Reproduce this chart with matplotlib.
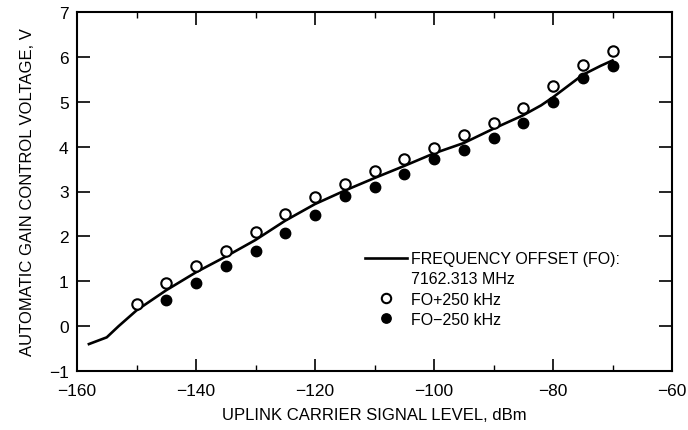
import matplotlib
matplotlib.use("Agg")
import matplotlib.pyplot as plt
from matplotlib.lines import Line2D
from matplotlib.ticker import MultipleLocator

plt.rcParams['font.family'] = ['Liberation Sans', 'DejaVu Sans']

# Data
level_pts = [-150, -145, -140, -135, -130, -125, -120, -115, -110,
             -105, -100, -95, -90, -85, -80, -75, -70]
fo_plus = [0.50, 0.95, 1.33, 1.67, 2.10, 2.50, 2.87, 3.17, 3.45,
           3.73, 3.98, 4.25, 4.53, 4.87, 5.35, 5.82, 6.13]
fo_minus = [None, 0.58, 0.95, 1.33, 1.68, 2.07, 2.48, 2.90, 3.10,
            3.40, 3.72, 3.92, 4.20, 4.52, 5.00, 5.52, 5.80]

curve_x = [-158, -155, -153, -150, -145, -140, -135, -130, -125, -120,
           -115, -110, -105, -100, -95, -90, -85, -82, -80, -77, -75, -72, -70]
curve_y = [-0.40, -0.25, 0.00, 0.35, 0.80, 1.20, 1.55, 1.92, 2.35, 2.72,
           3.02, 3.30, 3.57, 3.85, 4.08, 4.40, 4.70, 4.92, 5.10, 5.40, 5.60, 5.80, 5.92]

xticks = [-160, -140, -120, -100, -80, -60]
yticks = [-1, 0, 1, 2, 3, 4, 5, 6, 7]

fig = plt.figure(figsize=(6.88, 4.31), dpi=100)
ax = fig.add_axes([77/688, 1 - 372/431, (672-77)/688, (372-13)/431])

h_line, = ax.plot(curve_x, curve_y, color='black', lw=1.9)
h_open, = ax.plot(level_pts, fo_plus, 'o', ms=7.5, mfc='white', mec='black', mew=1.5,
                  ls='none')
mx = [x for x, y in zip(level_pts, fo_minus) if y is not None]
my = [y for y in fo_minus if y is not None]
h_fill, = ax.plot(mx, my, 'o', ms=7.5, mfc='black', mec='black', ls='none')

ax.set_xlim(-160, -60)
ax.set_ylim(-1, 7)
ax.set_xticks(xticks)
ax.set_xticklabels([str(t).replace('-', '\u2212') for t in xticks])
ax.set_yticks(yticks)
ax.set_yticklabels([str(t).replace('-', '\u2212') for t in yticks])
ax.xaxis.set_minor_locator(MultipleLocator(10))
ax.tick_params(axis='x', which='major', direction='in', length=9, width=1.2,
               top=True, bottom=True, labelsize=12.5, pad=9)
ax.tick_params(axis='x', which='minor', direction='in', length=4, width=1.0,
               top=True, bottom=True)
ax.tick_params(axis='y', which='major', direction='in', length=9.5, width=1.2,
               left=True, right=True, labelsize=12.5, pad=6)
for s in ax.spines.values():
    s.set_linewidth(1.5)

ax.set_xlabel('UPLINK CARRIER SIGNAL LEVEL, dBm', fontsize=12, labelpad=6)
ax.set_ylabel('AUTOMATIC GAIN CONTROL VOLTAGE, V', fontsize=12, labelpad=10)

blank = Line2D([], [], ls='none', marker='none')
ax.legend([h_line, blank, h_open, h_fill],
          ['FREQUENCY OFFSET (FO):', '7162.313 MHz', 'FO+250 kHz', 'FO\u2212250 kHz'],
          loc='upper left', bbox_to_anchor=(0.484, 0.334), frameon=False,
          fontsize=11.5, handlelength=2.6, handletextpad=0.3, labelspacing=0.33,
          borderaxespad=0, borderpad=0, markerscale=0.9)

fig.savefig('out.png', dpi=100)
